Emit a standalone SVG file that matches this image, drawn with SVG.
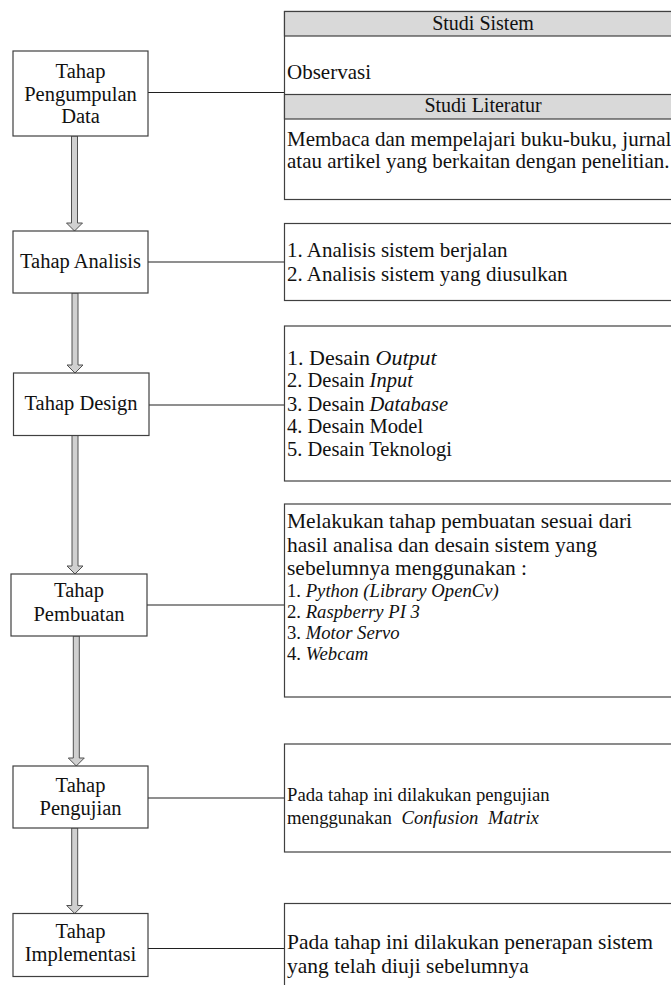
<svg xmlns="http://www.w3.org/2000/svg" width="671" height="985" viewBox="0 0 671 985">
<style>
  .box { fill: #ffffff; stroke: #404040; stroke-width: 1.2; }
  .hdr { fill: #d9d9d9; stroke: #404040; stroke-width: 1.2; }
  .lbl { font-family: "Liberation Serif", "Times New Roman", serif; font-size: 20.5px; fill: #111; text-anchor: middle; }
  .txt { font-family: "Liberation Serif", "Times New Roman", serif; font-size: 21px; fill: #111; }
  .hd { font-family: "Liberation Serif", "Times New Roman", serif; font-size: 20px; fill: #111; text-anchor: middle; }
  .it { font-style: italic; }
  .conn { stroke: #202020; stroke-width: 1.2; fill: none; }
  .arr { fill: #d0d0d0; stroke: #505050; stroke-width: 1; stroke-linejoin: miter; }
</style>

<g id="connectors">
  <line class="conn" x1="148" y1="92.5" x2="284.5" y2="92.5"/>
  <line class="conn" x1="148" y1="262" x2="284.5" y2="262"/>
  <line class="conn" x1="149" y1="405" x2="284.5" y2="405"/>
  <line class="conn" x1="147" y1="605" x2="284.5" y2="605"/>
  <line class="conn" x1="148" y1="798" x2="284.5" y2="798"/>
  <line class="conn" x1="148" y1="948.5" x2="284.5" y2="948.5"/>
  <polygon class="arr" points="71.5,136 77.5,136 77.5,223 82.5,223 74.5,231 66.5,223 71.5,223"/>
  <polygon class="arr" points="72,293 78,293 78,365 83,365 75,373 67,365 72,365"/>
  <polygon class="arr" points="72,435.5 78,435.5 78,566 83,566 75,574 67,566 72,566"/>
  <polygon class="arr" points="73.3,636 79.3,636 79.3,758 84.3,758 76.3,766 68.3,758 73.3,758"/>
  <polygon class="arr" points="71.7,828 77.7,828 77.7,905.5 82.7,905.5 74.7,913.5 66.7,905.5 71.7,905.5"/>
</g>

<g id="node-pengumpulan">
  <rect class="box" x="13" y="51" width="135" height="85"/>
  <text class="lbl" x="80.5" y="78">Tahap</text>
  <text class="lbl" x="80.5" y="100.5">Pengumpulan</text>
  <text class="lbl" x="80.5" y="123">Data</text>
</g>

<g id="node-studi">
  <rect class="box" x="284.5" y="11.5" width="400" height="188"/>
  <rect class="hdr" x="284.5" y="11.5" width="400" height="24.5"/>
  <rect class="hdr" x="284.5" y="94.5" width="400" height="24.5"/>
  <text class="hd" x="483" y="30">Studi Sistem</text>
  <text class="txt" x="287" y="79">Observasi</text>
  <text class="hd" x="483" y="112">Studi Literatur</text>
  <text class="txt" x="287" y="146">Membaca dan mempelajari buku-buku, jurnal</text>
  <text class="txt" x="287" y="168">atau artikel yang berkaitan dengan penelitian.</text>
</g>

<g id="node-analisis">
  <rect class="box" x="13" y="231" width="135" height="62"/>
  <text class="lbl" x="80.5" y="268">Tahap Analisis</text>
</g>

<g id="detail-analisis">
  <rect class="box" x="284.5" y="223.5" width="400" height="77"/>
  <text class="txt" x="287" y="257">1. Analisis sistem berjalan</text>
  <text class="txt" x="287" y="281">2. Analisis sistem yang diusulkan</text>
</g>

<g id="node-design">
  <rect class="box" x="13.5" y="373" width="135.5" height="62.5"/>
  <text class="lbl" x="81" y="410">Tahap Design</text>
</g>

<g id="detail-design">
  <rect class="box" x="284.5" y="326" width="400" height="155"/>
  <text class="txt" x="287" y="365" style="font-size:22px">1. Desain <tspan class="it">Output</tspan></text>
  <text class="txt" x="287" y="387" style="font-size:20.5px">2. Desain <tspan class="it">Input</tspan></text>
  <text class="txt" x="287" y="411" style="font-size:20.5px">3. Desain <tspan class="it">Database</tspan></text>
  <text class="txt" x="287" y="433" style="font-size:20.5px">4. Desain Model</text>
  <text class="txt" x="287" y="456" style="font-size:20.5px">5. Desain Teknologi</text>
</g>

<g id="node-pembuatan">
  <rect class="box" x="11" y="574" width="136" height="62"/>
  <text class="lbl" x="79" y="597">Tahap</text>
  <text class="lbl" x="79" y="621">Pembuatan</text>
</g>

<g id="detail-pembuatan">
  <rect class="box" x="284.5" y="504" width="400" height="193"/>
  <text class="txt" x="287" y="528" style="font-size:21.5px">Melakukan tahap pembuatan sesuai dari</text>
  <text class="txt" x="287" y="552" style="font-size:21.5px">hasil analisa dan desain sistem yang</text>
  <text class="txt" x="287" y="575" style="font-size:21.5px">sebelumnya menggunakan :</text>
  <text class="txt" x="287" y="597" style="font-size:18.7px">1. <tspan class="it">Python (Library OpenCv)</tspan></text>
  <text class="txt" x="287" y="618" style="font-size:18.7px">2. <tspan class="it">Raspberry PI 3</tspan></text>
  <text class="txt" x="287" y="639" style="font-size:18.7px">3. <tspan class="it">Motor Servo</tspan></text>
  <text class="txt" x="287" y="660" style="font-size:18.7px">4. <tspan class="it">Webcam</tspan></text>
</g>

<g id="node-pengujian">
  <rect class="box" x="13" y="766" width="135" height="62"/>
  <text class="lbl" x="80.5" y="792">Tahap</text>
  <text class="lbl" x="80.5" y="815">Pengujian</text>
</g>

<g id="detail-pengujian">
  <rect class="box" x="284.5" y="744" width="400" height="108"/>
  <text class="txt" x="287" y="801" style="font-size:18.7px">Pada tahap ini dilakukan pengujian</text>
  <text class="txt" x="287" y="824" style="font-size:18.7px">menggunakan <tspan class="it" dx="5">Confusion</tspan><tspan class="it" dx="5"> Matrix</tspan></text>
</g>

<g id="node-implementasi">
  <rect class="box" x="13" y="913.5" width="135" height="63"/>
  <text class="lbl" x="80.5" y="938">Tahap</text>
  <text class="lbl" x="80.5" y="961">Implementasi</text>
</g>

<g id="detail-implementasi">
  <rect class="box" x="284.5" y="903.5" width="400" height="100"/>
  <text class="txt" x="287" y="949" style="font-size:21.5px">Pada tahap ini dilakukan penerapan sistem</text>
  <text class="txt" x="287" y="973" style="font-size:21.5px">yang telah diuji sebelumnya</text>
</g>
</svg>
